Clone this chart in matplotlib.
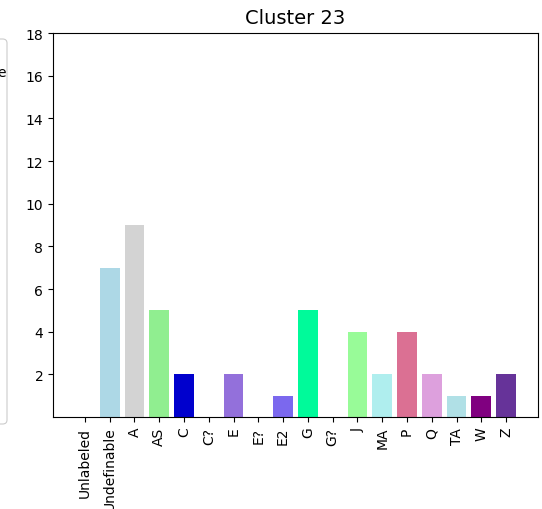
import matplotlib
matplotlib.use("Agg")
import matplotlib.pyplot as plt
from matplotlib.patches import FancyBboxPatch

labels = ["Unlabeled", "Undefinable", "A", "AS", "C", "C?", "E", "E?", "E2",
          "G", "G?", "J", "MA", "P", "Q", "TA", "W", "Z"]
counts = [0, 7, 9, 5, 2, 0, 2, 0, 1, 5, 0, 4, 2, 4, 2, 1, 1, 2]
colors = ["white", "lightblue", "lightgray", "lightgreen", "mediumblue", "white",
          "mediumpurple", "white", "mediumslateblue", "mediumspringgreen", "white",
          "palegreen", "paleturquoise", "palevioletred", "plum", "powderblue",
          "purple", "rebeccapurple"]
yticks = [2, 4, 6, 8, 10, 12, 14, 16, 18]

fig = plt.figure(figsize=(5.42, 5.10), dpi=100)
ax = fig.add_axes([53 / 542, 92 / 510, (538 - 53) / 542, (418 - 34) / 510])

ax.bar(range(len(labels)), counts, color=colors, width=0.8)
ax.set_xticks(range(len(labels)))
ax.set_xticklabels(labels, rotation=90)
ax.set_yticks(yticks)
ax.set_ylim(0, 18)
ax.set_title("Cluster 23", fontsize=14, pad=7)

# cropped legend box of a neighbouring panel at the left edge
box = FancyBboxPatch((-40 / 542, 85 / 510), 47 / 542, 385 / 510,
                     boxstyle="round,pad=0,rounding_size=0.008",
                     transform=fig.transFigure, facecolor="white",
                     edgecolor="#cccccc", linewidth=0.8)
fig.patches.append(box)
fig.text(2 / 542, 1 - 73 / 510, "e", ha="center", va="center", fontsize=10)

fig.savefig("out.png", dpi=100)
